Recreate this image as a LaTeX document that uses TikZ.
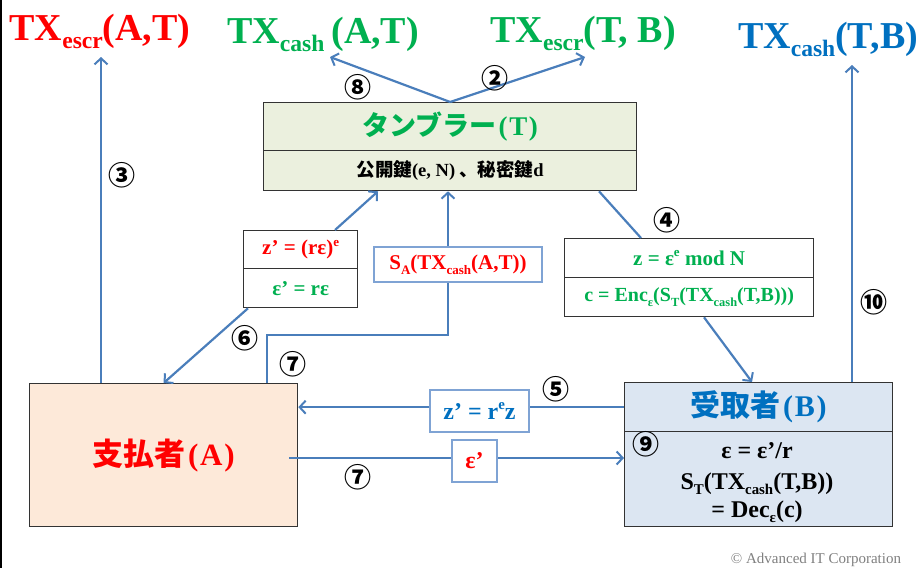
\documentclass[tikz,border=0pt]{standalone}
\usepackage{fontspec}
\setmainfont{Liberation Serif}
\newfontfamily\jp{Noto Sans CJK JP}
\usetikzlibrary{arrows.meta,calc}

\definecolor{cred}{HTML}{FF0000}
\definecolor{cgreen}{HTML}{00B050}
\definecolor{cblue}{HTML}{0070C0}
\definecolor{linkblue}{HTML}{4A7EBB}
\definecolor{tagblue}{HTML}{7FA3D4}
\definecolor{tfill}{HTML}{EBF0DE}
\definecolor{afill}{HTML}{FDE9D9}
\definecolor{bfill}{HTML}{DCE6F2}
\definecolor{edge}{HTML}{333333}

% sub- and superscripts set in the running font
\newcommand\dn[1]{\raisebox{-0.22em}{\scalebox{0.62}{#1}}}
\newcommand\up[1]{\raisebox{0.40em}{\scalebox{0.62}{#1}}}
\newcommand\fs[1]{\fontsize{#1}{#1}\selectfont}
% parenthesised party letter after Japanese text
\newcommand\party[1]{\textrm{\hspace{0.08em}(\hspace{0.06em}#1\hspace{0.06em})}}

\tikzset{
  flow/.style={draw=linkblue, line width=2.2pt,
    -{Straight Barb[length=6pt,width=13pt,line width=2pt]}},
  link/.style={draw=linkblue, line width=2.2pt},
  cell/.style={draw=edge, line width=1.3pt, anchor=north west,
    inner sep=0pt, align=center},
  tag/.style={draw=tagblue, line width=1.2pt, fill=white, inner sep=0pt},
  num/.style={font=\jp\bfseries\fs{27}, inner sep=0pt},
  head/.style={font=\bfseries\fs{38}, anchor=base, inner sep=0pt},
}

\begin{document}
\begin{tikzpicture}[x=1pt,y=-1pt]
\useasboundingbox (0,0) rectangle (920,568);
\fill[white] (0,0) rectangle (920,568);
\draw[black, line width=1.5pt] (0.75,0) -- (0.75,568);

% transaction labels along the top
\node[head, text=cred]   (txAT) at (100,40) {TX\dn{escr}(A,T)};
\node[head, text=cgreen] (txcAT) at (323,43) {TX\dn{cash}\hspace{7pt}(A,T)};
\node[head, text=cgreen] (txTB) at (583,42) {TX\dn{escr}(T, B)};
\node[head, text=cblue]  (txcTB) at (828,48) {TX\dn{cash}(T,B)};
\coordinate (e3) at (101,57);
\coordinate (e8) at (330,57);
\coordinate (e2) at (585,57);
\coordinate (e10) at (852,65);

% tumbler (T)
\node[cell, fill=tfill, minimum width=373pt, minimum height=48pt] (t1) at (263,102)
  {\jp\bfseries\fs{27}\color{cgreen}タンブラー\party{T}};
\node[cell, fill=tfill, minimum width=373pt, minimum height=40pt] (t2) at (263,150)
  {\jp\bfseries\fs{18.5}公開鍵\textrm{(e, N)} 、秘密鍵\textrm{d}};

% blinding box of A
\node[cell, fill=white, minimum width=114pt, minimum height=38pt] (l1) at (243,230)
  {\bfseries\fs{21}\color{cred}z’ = (rε)\up{e}};
\node[cell, fill=white, minimum width=114pt, minimum height=39pt] (l2) at (243,268)
  {\bfseries\fs{21}\color{cgreen}ε’ = rε};

% encryption box of T
\node[cell, fill=white, minimum width=249pt, minimum height=39pt] (r1) at (564,238)
  {\bfseries\fs{21}\color{cgreen}z = ε\up{e} mod N};
\node[cell, fill=white, minimum width=249pt, minimum height=39pt] (r2) at (564,277)
  {\bfseries\fs{20}\color{cgreen}c = Enc\dn{ε}(S\dn{T}(TX\dn{cash}(T,B)))};

% payer (A)
\node[cell, fill=afill, minimum width=268pt, minimum height=143pt] (A) at (29,383)
  {\jp\bfseries\fs{31}\color{cred}支払者\party{A}};

% payee (B)
\node[cell, fill=bfill, minimum width=268pt, minimum height=49pt] (b1) at (624,382)
  {\jp\bfseries\fs{30}\color{cblue}受取者\party{B}};
\node[cell, fill=bfill, minimum width=268pt, minimum height=95pt] (b2) at (624,431) {};
\node[anchor=base, inner sep=0pt, font=\bfseries\fs{24}] (b2a) at (757,458) {ε = ε’/r};
\node[anchor=base, inner sep=0pt, font=\bfseries\fs{24}] (b2b) at (757,489) {S\dn{T}(TX\dn{cash}(T,B))};
\node[anchor=base, inner sep=0pt, font=\bfseries\fs{24}] (b2c) at (757,517) {= Dec\dn{ε}(c)};

% connectors
\draw[flow] (A.north -| e3) -- (e3);
\draw[flow] (t1.north) -- (e8);
\draw[flow] (t1.north) -- (e2);
\draw[flow] ($(l1.north west)+(92,0)$) -- ($(t2.south west)+(115,0)$);
\draw[flow] ($(l2.south west)+(5,0)$) -- (A.north);
\coordinate (k7) at (448,335);
\draw[flow] ($(A.north west)+(238,0)$) |- (k7) -- (k7 |- t2.south);
\draw[link] ($(t2.south west)+(336,0)$) -- ($(r1.north west)+(77,0)$);
\draw[flow] ($(r2.south west)+(140,0)$) -- ($(b1.north west)+(128,0)$);
\draw[flow] (b1.north -| e10) -- (e10);
\draw[flow] (b1.west) -- (b1.west -| A.east);
\coordinate (s7) at (289,458);
\draw[flow] (s7) -- (s7 -| b2.west);

% values carried on the connectors
\node[tag, minimum width=168pt, minimum height=35pt, font=\bfseries\fs{21}, text=cred]
  (sa) at (458,264.5) {S\dn{A}(TX\dn{cash}(A,T))};
\node[tag, minimum width=99pt, minimum height=42pt, font=\bfseries\fs{24}, text=cblue]
  (zb) at (479.5,411) {z’ = r\up{e}z};
\node[tag, minimum width=45pt, minimum height=42pt, font=\bfseries\fs{24}, text=cred]
  (eb) at (474.5,461) {ε’};

% step numbers
\node[num] (n2) at (495,78) {②};
\node[num] (n3) at (122,175) {③};
\node[num] (n4) at (667,220) {④};
\node[num] (n5) at (556,389) {⑤};
\node[num] (n6) at (245,338) {⑥};
\node[num] (n7a) at (293,364) {⑦};
\node[num] (n7b) at (358,477) {⑦};
\node[num] (n8) at (358,87) {⑧};
\node[num] (n9) at (646,444) {⑨};
\node[num] (n10) at (874,302) {⑩};

\node[anchor=base, inner sep=0pt, text=gray, font=\fs{15}] (copy) at (816,563)
  {© Advanced IT Corporation};
\end{tikzpicture}
\end{document}
